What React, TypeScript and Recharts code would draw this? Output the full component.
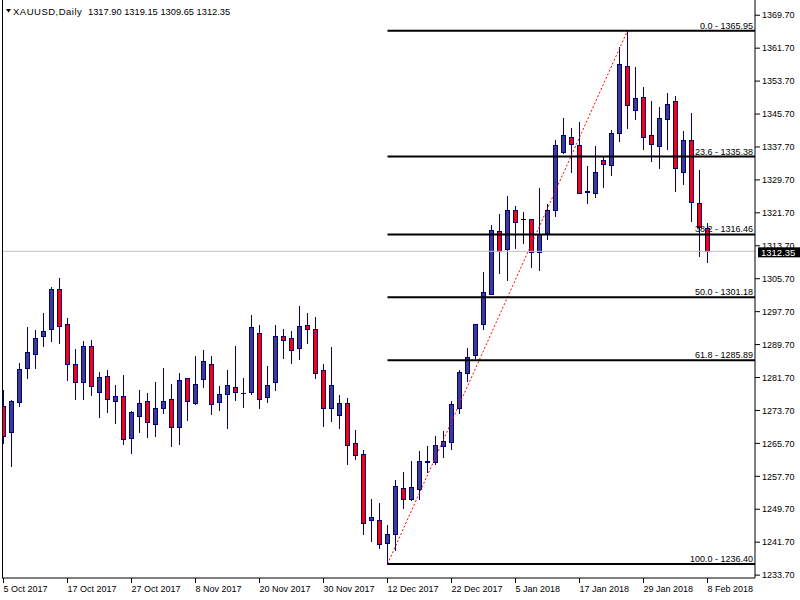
import { ComposedChart, Bar, XAxis, YAxis, ReferenceLine } from 'recharts'

const dates = [
  '5 Oct 2017', '6 Oct 2017', '9 Oct 2017', '10 Oct 2017', '11 Oct 2017', '12 Oct 2017', '13 Oct 2017', '16 Oct 2017',
  '17 Oct 2017', '18 Oct 2017', '19 Oct 2017', '20 Oct 2017', '23 Oct 2017', '24 Oct 2017', '25 Oct 2017', '26 Oct 2017',
  '27 Oct 2017', '30 Oct 2017', '31 Oct 2017', '1 Nov 2017', '2 Nov 2017', '3 Nov 2017', '6 Nov 2017', '7 Nov 2017',
  '8 Nov 2017', '9 Nov 2017', '10 Nov 2017', '13 Nov 2017', '14 Nov 2017', '15 Nov 2017', '16 Nov 2017', '17 Nov 2017',
  '20 Nov 2017', '21 Nov 2017', '22 Nov 2017', '23 Nov 2017', '24 Nov 2017', '27 Nov 2017', '28 Nov 2017', '29 Nov 2017',
  '30 Nov 2017', '1 Dec 2017', '4 Dec 2017', '5 Dec 2017', '6 Dec 2017', '7 Dec 2017', '8 Dec 2017', '11 Dec 2017',
  '12 Dec 2017', '13 Dec 2017', '14 Dec 2017', '15 Dec 2017', '18 Dec 2017', '19 Dec 2017', '20 Dec 2017', '21 Dec 2017',
  '22 Dec 2017', '26 Dec 2017', '27 Dec 2017', '28 Dec 2017', '29 Dec 2017', '2 Jan 2018', '3 Jan 2018', '4 Jan 2018',
  '5 Jan 2018', '8 Jan 2018', '9 Jan 2018', '10 Jan 2018', '11 Jan 2018', '12 Jan 2018', '15 Jan 2018', '16 Jan 2018',
  '17 Jan 2018', '18 Jan 2018', '19 Jan 2018', '22 Jan 2018', '23 Jan 2018', '24 Jan 2018', '25 Jan 2018', '26 Jan 2018',
  '29 Jan 2018', '30 Jan 2018', '31 Jan 2018', '1 Feb 2018', '2 Feb 2018', '5 Feb 2018', '6 Feb 2018', '7 Feb 2018',
  '8 Feb 2018',
]

const open = [
  1274.75, 1268.4, 1275.8, 1283.9, 1287.5, 1291.9, 1293.4, 1303.1, 1294.8, 1284.87,
  1280.5, 1289.3, 1278.2, 1282.0, 1276.1, 1277.1, 1267.1, 1272.3, 1275.9, 1270.5,
  1274.2, 1276.4, 1269.6, 1281.5, 1275.6, 1281.4, 1285.1, 1275.8, 1277.6, 1279.5,
  1278.0, 1278.3, 1292.4, 1277.0, 1280.5, 1291.7, 1291.2, 1288.8, 1294.35, 1293.4,
  1283.6, 1274.2, 1272.7, 1275.4, 1265.7, 1263.0, 1247.0, 1247.2, 1241.4, 1243.8,
  1254.8, 1252.25, 1254.5, 1261.2, 1261.2, 1265.1, 1266.1, 1274.3, 1282.8, 1287.06,
  1294.6, 1302.1, 1317.4, 1313.0, 1322.5, 1320.1, 1320.1, 1312.07, 1316.7, 1322.3,
  1336.5, 1340.07, 1338.3, 1326.8, 1326.6, 1334.65, 1333.4, 1341.2, 1357.4, 1346.8,
  1349.95, 1340.7, 1337.9, 1344.6, 1348.8, 1331.7, 1339.3, 1323.97, 1317.9,
]
const high = [
  1278.6, 1276.2, 1285.3, 1294.0, 1293.2, 1297.4, 1303.7, 1305.8, 1296.05, 1288.6,
  1290.5, 1290.8, 1283.0, 1283.5, 1279.85, 1282.3, 1273.5, 1278.6, 1277.9, 1280.6,
  1284.0, 1280.1, 1282.7, 1281.6, 1286.9, 1288.3, 1286.9, 1279.6, 1283.5, 1289.3,
  1281.55, 1296.85, 1294.4, 1284.5, 1294.4, 1293.4, 1293.0, 1299.0, 1297.3, 1296.3,
  1284.95, 1289.1, 1277.4, 1276.8, 1268.9, 1264.1, 1252.2, 1251.1, 1245.85, 1256.8,
  1258.7, 1261.4, 1263.8, 1265.0, 1267.5, 1268.7, 1275.96, 1283.5, 1288.8, 1294.8,
  1307.3, 1318.7, 1321.4, 1325.75, 1323.3, 1321.85, 1320.2, 1327.7, 1323.8, 1339.5,
  1344.8, 1342.3, 1343.8, 1333.0, 1337.9, 1335.3, 1341.8, 1362.0, 1365.95, 1357.1,
  1352.3, 1348.8, 1347.3, 1350.7, 1350.03, 1341.5, 1346.0, 1332.06, 1319.15,
]
const low = [
  1265.8, 1260.25, 1274.8, 1281.6, 1284.05, 1289.4, 1290.6, 1290.0, 1281.2, 1276.6,
  1276.4, 1277.4, 1272.15, 1273.4, 1270.7, 1265.45, 1263.3, 1268.5, 1267.3, 1267.5,
  1273.0, 1265.1, 1265.6, 1271.4, 1275.3, 1279.4, 1272.8, 1273.8, 1269.5, 1276.2,
  1274.6, 1277.8, 1274.2, 1275.8, 1278.6, 1286.5, 1285.3, 1286.2, 1290.2, 1281.6,
  1270.0, 1271.2, 1269.5, 1260.6, 1261.9, 1243.6, 1242.0, 1240.2, 1236.4, 1239.8,
  1250.05, 1251.9, 1252.3, 1258.8, 1260.8, 1262.4, 1264.4, 1273.1, 1280.8, 1286.5,
  1293.45, 1302.0, 1307.1, 1305.5, 1313.2, 1314.4, 1308.6, 1307.9, 1315.3, 1320.96,
  1336.3, 1331.6, 1326.4, 1323.97, 1325.6, 1328.0, 1330.8, 1339.2, 1342.2, 1344.4,
  1337.3, 1334.25, 1332.6, 1337.2, 1327.0, 1328.6, 1319.75, 1311.2, 1309.65,
]
const close = [
  1267.5, 1276.0, 1283.7, 1287.8, 1291.2, 1293.1, 1303.1, 1294.3, 1284.95, 1280.5,
  1289.3, 1279.7, 1281.8, 1276.4, 1277.2, 1266.7, 1273.3, 1275.6, 1270.8, 1274.2,
  1275.9, 1269.6, 1281.1, 1276.1, 1280.2, 1285.7, 1275.2, 1277.6, 1280.0, 1278.1,
  1278.05, 1293.85, 1276.4, 1280.0, 1291.7, 1290.7, 1288.3, 1294.1, 1293.6, 1282.9,
  1274.4, 1279.8, 1275.6, 1265.4, 1262.8, 1246.25, 1247.7, 1241.2, 1243.6, 1255.25,
  1252.1, 1255.0, 1261.4, 1261.3, 1265.3, 1266.25, 1275.2, 1283.0, 1286.6, 1294.7,
  1302.36, 1317.65, 1312.5, 1322.5, 1319.5, 1320.1, 1312.3, 1316.5, 1322.3, 1338.1,
  1340.5, 1338.4, 1326.6, 1326.9, 1331.5, 1333.6, 1341.0, 1357.97, 1348.0, 1349.7,
  1340.2, 1338.4, 1344.85, 1348.25, 1332.5, 1339.5, 1324.3, 1318.3, 1312.35,
]

const xTicks = [0, 8, 16, 24, 32, 40, 48, 56, 64, 72, 80, 88]
const yTicks = [
  1233.7, 1241.7, 1249.7, 1257.7, 1265.7, 1273.7, 1281.7, 1289.7, 1297.7,
  1305.7, 1313.7, 1321.7, 1329.7, 1337.7, 1345.7, 1353.7, 1361.7, 1369.7,
]

const fibRatios = ['0.0', '23.6', '38.2', '50.0', '61.8', '100.0']
const fibPrices = [1365.95, 1335.38, 1316.46, 1301.18, 1285.89, 1236.4]
const fibStart = 48
const swingEnd = 78
const symbol = 'XAUUSD,Daily'

const last = dates.length - 1
const lastPrice = close[last]
const rows = dates.map((d, i) => ({ i, date: d, o: open[i], h: high[i], l: low[i], c: close[i] }))

const NAVY = '#000080'
const BULL = '#3b3b8f'
const BEAR = '#ff0000'
const FONT = '"Liberation Sans", Arial, sans-serif'

function Candle(props: any) {
  const { x, y, width, height, payload } = props
  const { o, h, l, c } = payload
  const cx = Math.round(x + width / 2 - 0.5) + 0.5
  const k = height / (h - l)
  const at = (v: number) => y + (h - v) * k
  const top = Math.round(at(Math.max(o, c))) + 0.5
  const bot = Math.round(at(Math.min(o, c))) + 0.5
  const col = o === c ? '#000' : NAVY
  return (
    <g>
      <line x1={cx} x2={cx} y1={Math.round(at(h))} y2={Math.round(at(l)) + 1} stroke={col} />
      {bot - top < 1 ? (
        <line x1={cx - 2.5} x2={cx + 2.5} y1={top} y2={top} stroke={col} />
      ) : (
        <rect x={cx - 2} y={top} width={4} height={bot - top} fill={c > o ? BULL : BEAR} stroke={NAVY} />
      )}
    </g>
  )
}

function DateTick(props: any) {
  const { x, y, payload } = props
  return (
    <text x={x} y={y + 7} textAnchor="start" fontSize={9} fill="#000">
      {dates[payload.value]}
    </text>
  )
}

function PriceTag(props: any) {
  const { x, y, width } = props.viewBox
  const left = x + width + 3
  return (
    <g>
      <rect x={left} y={y - 4} width={45} height={10} fill="#000" />
      <text x={left + 3} y={y + 4.5} fontSize={9.5} fill="#fff">
        {lastPrice.toFixed(2)}
      </text>
    </g>
  )
}

export default function App() {
  const ohlc = [open[last], high[last], low[last], close[last]].map((v) => v.toFixed(2)).join(' ')
  return (
    <div style={{ position: 'relative', width: 800, height: 600, background: '#fff', fontFamily: FONT }}>
      <style>{'body{margin:0}'}</style>
      <ComposedChart width={800} height={600} data={rows} margin={{ top: 0, right: 0, bottom: 0, left: 2 }}>
        <XAxis
          type="number"
          dataKey="i"
          domain={[-0.1875, 93.9375]}
          ticks={xTicks}
          interval={0}
          allowDataOverflow
          height={22}
          tickSize={5}
          tickMargin={2}
          axisLine={{ stroke: '#000' }}
          tickLine={{ stroke: '#000' }}
          tick={<DateTick />}
        />
        <YAxis
          orientation="right"
          domain={[1233.0, 1373.4]}
          ticks={yTicks}
          interval={0}
          allowDataOverflow
          width={45}
          tickSize={5}
          tickMargin={2}
          axisLine={{ stroke: '#000' }}
          tickLine={{ stroke: '#000' }}
          tick={{ fontSize: 9, fill: '#000' }}
          tickFormatter={(v: number) => v.toFixed(2)}
        />
        <ReferenceLine y={lastPrice} stroke="#c0c0c0" label={<PriceTag />} />
        <ReferenceLine x={-0.125} stroke="#000" />
        <Bar dataKey={(d: any) => [d.l, d.h]} barSize={5} shape={<Candle />} isAnimationActive={false} />
        <ReferenceLine
          segment={[{ x: fibStart, y: fibPrices[5] }, { x: swingEnd, y: fibPrices[0] }]}
          stroke="#ff0000"
          strokeDasharray="2 2"
        />
        {fibPrices.map((p, k) => (
          <ReferenceLine
            key={p}
            segment={[{ x: fibStart, y: p }, { x: 93.9375, y: p }]}
            stroke="#000"
            strokeWidth={2}
            label={{ value: `${fibRatios[k]} - ${p.toFixed(2)}`, position: 'insideBottomRight', offset: 2, fontSize: 9, fill: '#000' }}
          />
        ))}
      </ComposedChart>
      <svg width={260} height={20} style={{ position: 'absolute', left: 0, top: 0 }}>
        <polygon points="6,9 11,9 8.5,12.5" fill="#000" />
        <text x={13} y={15} fontSize={9.5} letterSpacing={0.5} fill="#000">
          {symbol}
        </text>
        <text x={88} y={15} fontSize={9.3} fill="#000">
          {ohlc}
        </text>
      </svg>
    </div>
  )
}
